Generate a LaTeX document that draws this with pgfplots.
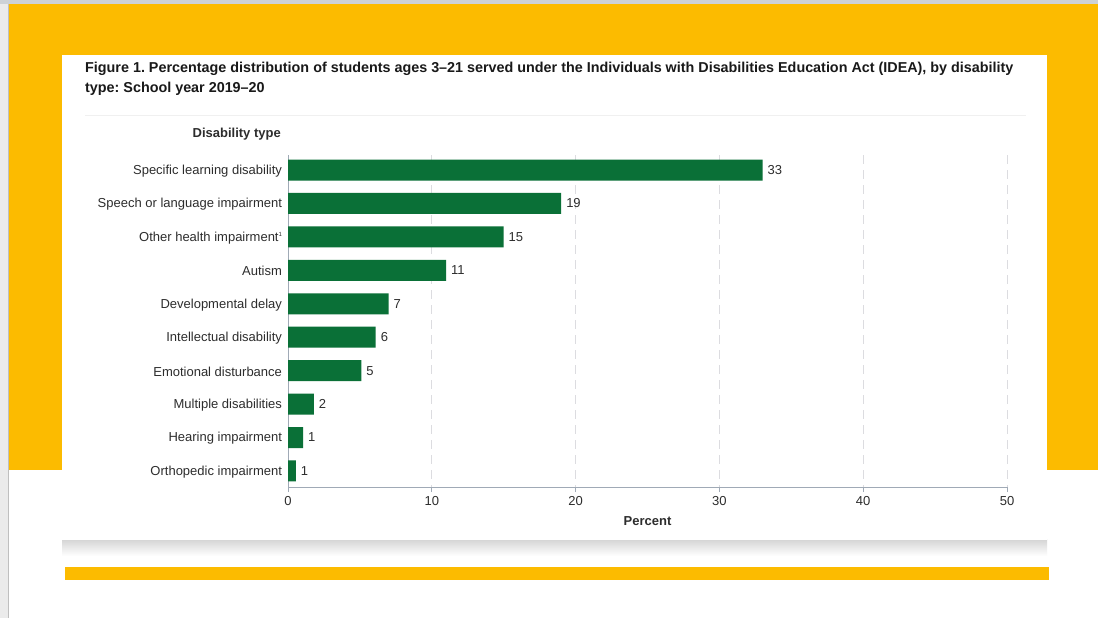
\documentclass[border=0pt]{standalone}
\usepackage{fontspec}
\setmainfont{Liberation Sans}
\usepackage{pgfplots}
\pgfplotsset{compat=1.18}
\definecolor{ygold}{RGB}{252,187,0}
\definecolor{bargreen}{RGB}{10,112,55}
\definecolor{axcol}{RGB}{160,170,182}
\definecolor{gridcol}{RGB}{220,220,224}
\definecolor{txt}{RGB}{45,45,45}
\definecolor{topline}{RGB}{205,210,215}
\pgfplotsset{/pgf/number format/assume math mode=true}
\frenchspacing
\begin{document}
\begin{tikzpicture}[x=1pt,y=1pt]
\useasboundingbox (0,0) rectangle (1098,618);
\fill[white] (0,0) rectangle (1098,618);
\fill[black!8] (0,0) rectangle (8,618);
\fill[black!25] (7.5,0) rectangle (9,618);
\fill[topline] (0,614) rectangle (1098,618);
\fill[ygold] (9,148) rectangle (1098,614);
\shade[top color=black!16, bottom color=white] (62,62) rectangle (1047,78);
\fill[white] (62,78) rectangle (1047,563);
\fill[ygold] (65,38) rectangle (1049,51);
\draw[black!6, line width=0.8pt] (85,503) -- (1026,503);
\node[anchor=base west, inner sep=0pt, font=\fontsize{14.35}{16}\selectfont\bfseries, text=black!90] at (85,545.3) {Figure 1. Percentage distribution of students ages 3–21 served under the Individuals with Disabilities Education Act (IDEA), by disability};
\node[anchor=base west, inner sep=0pt, font=\fontsize{14.35}{16}\selectfont\bfseries, text=black!90] at (85,525.3) {type: School year 2019–20};
\node[anchor=base east, inner sep=0pt, font=\fontsize{13}{15}\selectfont\bfseries, text=txt] at (281,480) {Disability type};
\begin{axis}[
  at={(288pt,131pt)}, anchor=south west,
  scale only axis, width=719pt, height=332pt,
  xbar, bar width=21pt,
  xmin=0, xmax=50, ymin=-0.45, ymax=9.48,
  y dir=reverse,
  ytick={0,...,9},
  yticklabels={Specific learning disability, Speech or language impairment, {Other health impairment{\fontsize{6}{6}\selectfont\raisebox{5pt}{1}}}, Autism, Developmental delay, Intellectual disability, Emotional disturbance, Multiple disabilities, Hearing impairment, Orthopedic impairment},
  xtick={0,10,...,50},
  xmajorgrids,
  grid style={gridcol, line width=0.9pt, dash pattern=on 9pt off 6pt},
  axis x line=bottom, axis y line=left,
  axis line style={axcol, -, line width=1pt},
  tick align=outside, major tick length=5pt,
  ytick style={draw=none},
  xtick style={axcol, line width=0.8pt},
  tick label style={font=\fontsize{13}{15}\selectfont, text=txt},
  yticklabel style={xshift=2.5pt, yshift=-1pt},
  xticklabel style={yshift=-1pt},
  xlabel={Percent},
  xlabel style={font=\fontsize{13}{15}\selectfont\bfseries, text=txt, yshift=-4pt},
  nodes near coords, point meta=x,
  nodes near coords style={font=\fontsize{13}{15}\selectfont, text=txt, anchor=west, xshift=1.5pt, /pgf/number format/.cd, fixed, precision=0},
]
\addplot[fill=bargreen, draw=none] coordinates {
(33,0) (19,1) (15,2) (11,3) (7,4) (6.1,5) (5.1,6) (1.8,7) (1.05,8) (0.55,9)
};
\end{axis}
\end{tikzpicture}
\end{document}
